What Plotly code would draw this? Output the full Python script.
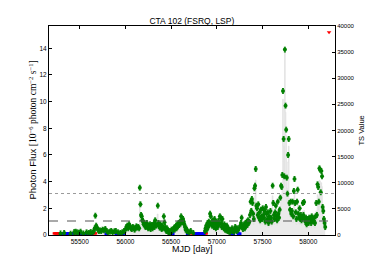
import plotly.graph_objects as go

# ---------------- data ----------------
green_mjd = [
    55290, 55330, 55400, 55440, 55455, 55470, 55490, 55510, 55540, 55575, 55600, 55620, 55640,
    55655, 55664, 55671, 55680, 55690, 55700, 55710, 55720, 55735, 55750, 55765, 55780, 55795,
    55810, 55830, 55845, 55860, 55880, 55895, 55920, 55945, 55965, 55985,
    56000, 56010, 56020, 56030, 56040, 56050, 56060, 56070, 56080, 56090, 56100, 56110, 56120,
    56130, 56140, 56150, 56157, 56164, 56171, 56178, 56185, 56192, 56199, 56206, 56213, 56220,
    56227, 56234, 56241, 56248, 56255, 56262, 56269, 56276, 56283, 56290, 56297, 56304, 56311,
    56318, 56325, 56332, 56339, 56354, 56361, 56368, 56375, 56382, 56389, 56396, 56403, 56410,
    56420, 56427, 56434, 56441, 56448, 56455, 56462, 56469, 56476, 56483, 56497, 56504, 56511,
    56525, 56532, 56539, 56546, 56553, 56560, 56567, 56574, 56581, 56588, 56595, 56602, 56609,
    56616, 56623, 56630, 56637, 56644, 56651, 56658, 56665, 56672, 56686, 56700, 56714, 56742,
    56870, 56877, 56884, 56891, 56898, 56905, 56912, 56919, 56926, 56933, 56940, 56947, 56954,
    56961, 56968, 56975, 56982, 56989, 56996, 57003, 57010, 57017, 57024, 57033, 57040, 57047,
    57054, 57061, 57068, 57075, 57082, 57089, 57096, 57103, 57110, 57117, 57124, 57131, 57138,
    57145, 57152, 57166, 57173, 57187, 57194, 57201, 57208, 57215, 57222, 57229, 57243, 57257,
    57264, 57271, 57278, 57285, 57292, 57299, 57306, 57313, 57320, 57327, 57334, 57341, 57348,
    57355, 57362, 57369, 57376, 57383, 57390, 57397, 57404, 57411, 57418, 57425, 57432, 57439,
    57446, 57453, 57460, 57467, 57474, 57481, 57488, 57495, 57502, 57509, 57516, 57523, 57530,
    57537, 57544, 57551, 57558, 57565, 57572, 57579, 57586, 57593, 57600, 57610, 57617, 57624,
    57631, 57638, 57645, 57652, 57659, 57666, 57673, 57680, 57687, 57694, 57702, 57709, 57716,
    57723, 57730, 57737, 57744, 57751, 57758, 57765, 57772, 57779, 57786, 57793, 57800, 57807,
    57814, 57821, 57828, 57835, 57842, 57849, 57856, 57863, 57870, 57877, 57884, 57891, 57898,
    57905, 57912, 57919, 57926, 57933, 57940, 57947, 57954, 57961, 57968, 57975, 57982, 57989,
    57996, 58003, 58010, 58017, 58024, 58031, 58038, 58045, 58052, 58059, 58066, 58073, 58080,
    58087, 58094, 58101, 58108, 58115, 58122, 58129, 58136, 58143, 58150, 58157, 58164, 58171,
    58178, 58185,
]
green_flux = [
    0.12, 0.15, 0.10, 0.22, 0.25, 0.20, 0.18, 0.25, 0.12, 0.20, 0.15, 0.22, 0.18,
    0.30, 0.50, 1.45, 0.70, 0.55, 0.40, 0.30, 0.35, 0.30, 0.40, 0.35, 0.45, 0.30,
    0.20, 0.25, 0.30, 0.20, 0.28, 0.30, 0.20, 0.15, 0.20, 0.30,
    0.40, 0.60, 0.70, 0.50, 0.80, 0.65, 0.50, 0.45, 0.60, 0.55, 0.40, 0.50, 0.65,
    0.55, 0.60, 0.50, 3.55, 2.30, 1.50, 1.40, 1.10, 1.05, 0.80, 0.90, 0.70, 0.60,
    0.75, 0.90, 0.60, 0.50, 0.70, 0.55, 0.80, 0.45, 0.60, 0.75, 0.50, 0.65, 0.85,
    0.60, 1.10, 0.80, 0.70, 2.20, 0.90, 0.70, 0.55, 0.80, 0.60, 0.45, 0.70, 0.50,
    1.40, 0.95, 0.60, 0.40, 0.30, 0.50, 0.35, 0.20, 0.30, 0.15, 0.25, 0.40, 0.30,
    0.45, 0.55, 0.40, 0.60, 0.70, 0.50, 0.80, 0.65, 0.90, 0.75, 1.00, 0.85, 1.40,
    1.10, 0.95, 1.20, 1.00, 0.80, 0.60, 0.40, 0.50, 0.30, 0.25, 0.20, 0.30, 0.15,
    0.30, 0.50, 0.70, 0.40, 0.90, 0.60, 1.00, 0.80, 1.60, 1.40, 0.90, 0.70, 1.10,
    0.85, 0.60, 1.20, 0.90, 0.50, 1.00, 0.75, 0.60, 1.05, 0.80, 1.40, 1.30, 0.90,
    0.60, 1.20, 0.70, 0.50, 0.80, 0.40, 0.60, 0.35, 0.70, 0.30, 0.50, 0.25, 0.40,
    0.20, 0.35, 0.50, 0.30, 0.25, 0.40, 0.60, 0.45, 0.30, 0.50, 0.35, 0.50, 0.70,
    0.90, 1.30, 0.60, 0.45, 0.70, 0.80, 0.50, 0.90, 0.70, 1.00, 0.75, 1.10, 0.90,
    1.00, 1.50, 2.50, 1.80, 2.70, 2.40, 1.60, 1.20, 3.50, 3.70, 4.95, 2.20, 2.00,
    1.50, 2.30, 1.30, 1.70, 1.10, 1.90, 1.40, 1.20, 2.00, 1.50, 1.30, 1.80, 1.00,
    2.10, 1.60, 1.20, 1.70, 0.90, 1.40, 1.10, 1.80, 1.30, 1.00, 3.70, 2.40, 1.50,
    1.20, 1.70, 2.20, 1.40, 1.10, 2.50, 1.60, 1.30, 1.90, 2.80, 3.70, 3.60, 4.50,
    10.80, 7.20, 4.40, 13.90, 9.70, 7.90, 4.30, 3.10, 6.00, 7.20, 2.40, 1.90, 2.50,
    1.60, 1.80, 2.50, 1.40, 3.30, 4.20, 2.40, 1.70, 1.20, 2.50, 3.40, 1.60, 1.30,
    2.00, 1.20, 1.50, 1.10, 1.30, 2.40, 1.50, 2.47, 1.20, 1.00, 1.30, 0.80, 1.10,
    1.20, 0.90, 1.30, 1.10, 1.20, 0.90, 1.40, 1.10, 1.20, 1.00, 1.30, 0.90, 1.40,
    2.40, 1.50, 3.80, 3.60, 2.50, 5.00, 4.90, 3.20, 4.80, 4.40, 2.10, 1.80, 1.20,
    0.90, 0.60,
]
ts_value = [
    150, 200, 120, 300, 350, 280, 250, 350, 150, 280, 200, 300, 250,
    400, 650, 1500, 900, 700, 500, 400, 450, 400, 500, 450, 550, 400,
    250, 300, 400, 250, 350, 400, 250, 200, 250, 400,
    500, 800, 950, 650, 1100, 850, 650, 600, 800, 700, 500, 650, 850,
    700, 800, 650, 6500, 4200, 2600, 2400, 1800, 1700, 1200, 1400, 1000, 850,
    1100, 1400, 850, 700, 1000, 750, 1200, 600, 850, 1100, 700, 900, 1300,
    850, 1800, 1200, 1000, 4000, 1400, 1000, 750, 1200, 850, 600, 1000, 700,
    2300, 1500, 850, 500, 400, 700, 450, 250, 400, 200, 300, 500, 400,
    600, 750, 500, 850, 1000, 700, 1200, 900, 1400, 1100, 1600, 1300, 2300,
    1800, 1500, 1900, 1600, 1200, 850, 500, 700, 400, 300, 250, 400, 200,
    400, 700, 1000, 500, 1400, 850, 1600, 1200, 2700, 2300, 1400, 1000, 1800,
    1300, 850, 1900, 1400, 700, 1600, 1100, 850, 1700, 1200, 2300, 2100, 1400,
    850, 1900, 1000, 700, 1200, 500, 850, 450, 1000, 400, 700, 300, 500,
    250, 450, 700, 400, 300, 500, 850, 600, 400, 700, 450, 700, 1000,
    1400, 2100, 850, 600, 1000, 1200, 700, 1400, 1000, 1600, 1100, 1800, 1400,
    1600, 2600, 4800, 3300, 5200, 4600, 2800, 2000, 7000, 7500, 10500, 4200, 3800,
    2600, 4400, 2200, 3000, 1900, 3500, 2400, 2000, 3800, 2600, 2200, 3300, 1700,
    4000, 2800, 2000, 3000, 1500, 2400, 1900, 3300, 2200, 1700, 7500, 4600, 2600,
    2000, 3000, 4200, 2400, 1900, 4800, 2800, 2200, 3500, 5500, 7500, 7300, 9500,
    26000, 17000, 9300, 35300, 23500, 19000, 9000, 6200, 14000, 17000, 4600, 3500, 4800,
    2800, 3300, 4800, 2400, 6600, 8800, 4600, 3000, 2000, 4800, 6800, 2800, 2200,
    3800, 2000, 2600, 1900, 2200, 4600, 2600, 4700, 2000, 1700, 2200, 1200, 1900,
    2000, 1400, 2200, 1900, 2000, 1400, 2400, 1900, 2000, 1700, 2200, 1400, 2400,
    4600, 2600, 7700, 7300, 4800, 10500, 10300, 6400, 10000, 9300, 4000, 3300, 2000,
    1400, 850,
]

blue_mjd = [55300, 55345, 55360, 55380, 55420, 55430, 55475, 55520, 55530, 55555, 55590,
            55610, 55630, 55790, 55900, 55930, 55955, 55975, 56490, 56518, 56680, 56770,
            56790, 56800, 56830, 56855, 57160, 57180, 57236, 57250]
blue_flux = [0.08, 0.07, 0.09, 0.08, 0.08, 0.07, 0.09, 0.08, 0.07, 0.08, 0.09,
             0.08, 0.07, 0.08, 0.08, 0.09, 0.07, 0.08, 0.08, 0.09, 0.10, 0.08,
             0.07, 0.09, 0.08, 0.08, 0.08, 0.09, 0.08, 0.07]

red_mjd = [55250, 55262, 55274, 55325, 55338, 55352, 55365, 55405, 55418, 55480, 55495,
           55545, 55560, 55630, 55645, 56752, 56765, 56778, 56791, 56804, 56817, 56830, 56843, 56856]
red_flux = [0.12] * len(red_mjd)

flag_mjd = [58227]
flag_flux = [15.2]

mean_flux = 1.05
threshold_flux = 3.11

x_ticks = [55500, 56000, 56500, 57000, 57500, 58000]
flux_ticks = [0, 2, 4, 6, 8, 10, 12, 14]
ts_ticks = [0, 5000, 10000, 15000, 20000, 25000, 30000, 35000, 40000]

# ---------------- figure ----------------
FONT = "Liberation Sans, Arial, sans-serif"
fig = go.Figure()

fig.add_trace(go.Scatter(
    x=green_mjd, y=ts_value, yaxis="y", mode="lines", line=dict(color="#dcdcdc", width=0.6, shape="hvh"),
    fill="tozeroy", fillcolor="rgba(225,225,225,0.7)", hoverinfo="skip", showlegend=False))

fig.add_trace(go.Scatter(
    x=red_mjd, y=red_flux, yaxis="y2", mode="markers",
    marker=dict(symbol="line-ew", size=6, color="red", line=dict(color="red", width=2.5)),
    showlegend=False))
fig.add_trace(go.Scatter(
    x=blue_mjd, y=blue_flux, yaxis="y2", mode="markers",
    marker=dict(symbol="square", size=3.5, color="blue"), showlegend=False))
fig.add_trace(go.Scatter(
    x=green_mjd, y=green_flux, yaxis="y2", mode="markers",
    marker=dict(symbol="circle", size=4, color="#008000"),
    error_y=dict(type="constant", value=0.18, color="#008000", thickness=1, width=1),
    showlegend=False))
fig.add_trace(go.Scatter(
    x=flag_mjd, y=flag_flux, yaxis="y2", mode="markers",
    marker=dict(symbol="triangle-down", size=4, color="red"), showlegend=False))

fig.add_shape(type="line", xref="paper", yref="y2", x0=0, x1=1, y0=threshold_flux, y1=threshold_flux,
              line=dict(color="#9a9a9a", width=1, dash="dot"))
fig.add_shape(type="line", xref="paper", yref="y2", x0=0, x1=1, y0=mean_flux, y1=mean_flux,
              line=dict(color="#555555", width=1, dash="dash"))

axis_common = dict(showline=True, linecolor="black", linewidth=1, ticks="inside", ticklen=3,
                   tickcolor="black", showgrid=False, zeroline=False, automargin=False)

L, R, T, B = 49, 39, 26, 27
PW, PH = 374 - L - R, 262 - T - B

fig.update_layout(
    width=374, height=262,
    margin=dict(l=L, r=R, t=T, b=B),
    paper_bgcolor="white", plot_bgcolor="white",
    title=dict(text="CTA 102 (FSRQ, LSP)", x=0.513, xanchor="center", y=0.92, yanchor="middle",
               font=dict(family=FONT, size=8.5, color="black")),
    xaxis=dict(range=[55164, 58292], tickvals=x_ticks, ticktext=[str(v) for v in x_ticks],
               mirror="ticks", tickfont=dict(family=FONT, size=6.5, color="black"),
               **axis_common),
    yaxis=dict(range=[0, 40000], side="right", tickvals=ts_ticks, ticktext=[str(v) for v in ts_ticks],
               tickfont=dict(family=FONT, size=6, color="black"),
               **axis_common),
    yaxis2=dict(range=[0, 15.67], overlaying="y", side="left", tickvals=flux_ticks,
                ticktext=[str(v) for v in flux_ticks],
                tickfont=dict(family=FONT, size=6.5, color="black"),
                **axis_common),
)

# axis titles as paper annotations (precise placement)
fig.add_annotation(text="MJD [day]", xref="paper", yref="paper", x=0.5, y=(235 - 249) / PH,
                   showarrow=False, xanchor="center", yanchor="middle",
                   font=dict(family=FONT, size=9, color="black"))
fig.add_annotation(text="TS Value", xref="paper", yref="paper", x=(361 - L) / PW, y=0.5,
                   textangle=-90, showarrow=False, xanchor="center", yanchor="middle",
                   font=dict(family=FONT, size=7.5, color="black"))
fig.add_annotation(
    text="Photon Flux <span style=\"font-family:'Liberation Serif'\">[10<sup>−6</sup> photon cm<sup>−2</sup> s<sup>−1</sup>]</span>",
    xref="paper", yref="paper", x=(32 - L) / PW, y=0.5, textangle=-90, showarrow=False,
    xanchor="center", yanchor="middle", font=dict(family=FONT, size=9.5, color="black"))

fig.write_html("out.html", config={"displayModeBar": False},
               post_script="document.body.style.margin='0';document.body.style.padding='0';")
